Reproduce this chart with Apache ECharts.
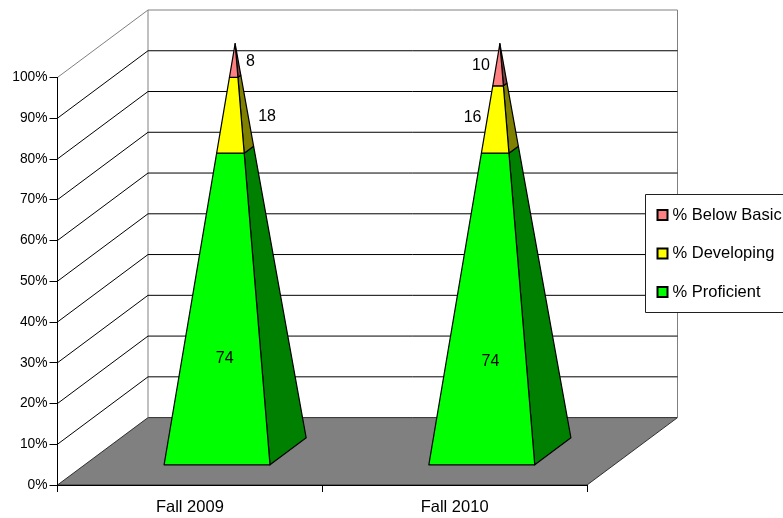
<!DOCTYPE html>
<html>
<head>
<meta charset="utf-8">
<style>html,body{margin:0;padding:0;background:#fff;overflow:hidden}#chart{width:783px;height:518px}</style>
<script src="https://cdn.jsdelivr.net/npm/echarts@6/dist/echarts.min.js"></script>
</head>
<body>
<div id="chart"></div>
<script>
const categories = ['Fall 2009', 'Fall 2010'];
const belowBasic = [8, 10];
const developing = [18, 16];
const proficient = [74, 74];
const wallLevels = [0, 10, 20, 30, 40, 50, 60, 70, 80, 90, 100];

// Oblique projection of the depth axis, in pixels, and the pyramid footprint.
const DEPTH_X = 90.5, DEPTH_Y = -67.4;
const BASE_WIDTH = 0.4, DEPTH_FRONT = 0.3, DEPTH_BACK = 0.7;
const FONT = '"Liberation Sans", Arial, sans-serif';

// Label nudges per series and category, measured from the middle of the segment.
const proficientNudge = [[1, 50], [2, 53]];
const developingNudge = [[35, 1], [-24, -2]];
const belowNudge = [[16, 1], [-18, 1]];

function wallItem(params, api) {
  const v = api.value(0);
  const band = api.size([1, 0])[0];
  const p = api.coord([0, v]);
  const left = p[0] - band / 2;
  const right = left + band * categories.length;
  const y = p[1];
  const children = [];
  const grey = '#808080';
  if (v === 0) {
    const top = api.coord([0, 100])[1];
    children.push({
      type: 'polygon',
      shape: { points: [[left, y], [right, y], [right + DEPTH_X, y + DEPTH_Y], [left + DEPTH_X, y + DEPTH_Y]] },
      style: { fill: '#808080', stroke: '#303030', lineWidth: 1 }
    });
    children.push({ type: 'line', shape: { x1: left + DEPTH_X, y1: y + DEPTH_Y, x2: left + DEPTH_X, y2: top + DEPTH_Y }, style: { stroke: grey, lineWidth: 1 } });
    children.push({ type: 'line', shape: { x1: right + DEPTH_X, y1: y + DEPTH_Y, x2: right + DEPTH_X, y2: top + DEPTH_Y }, style: { stroke: grey, lineWidth: 1 } });
  } else {
    const c = v === 100 ? grey : '#000';
    children.push({
      type: 'polyline',
      shape: { points: [[left, y], [left + DEPTH_X, y + DEPTH_Y], [right + DEPTH_X, y + DEPTH_Y]] },
      style: { stroke: c, lineWidth: 1, fill: 'none' }
    });
  }
  return { type: 'group', children };
}

function pyramidRender(sideColor, nudges) {
  return function (params, api) {
    const cat = api.value(0), from = api.value(1), to = api.value(2);
    const band = api.size([1, 0])[0];
    const foot = api.coord([cat, 0]);
    const peak = api.coord([cat, 100]);
    const half = band * BASE_WIDTH / 2;
    const apex = [foot[0] + DEPTH_X / 2, peak[1] + DEPTH_Y / 2];
    const fl = [foot[0] - half + DEPTH_X * DEPTH_FRONT, foot[1] + DEPTH_Y * DEPTH_FRONT];
    const fr = [foot[0] + half + DEPTH_X * DEPTH_FRONT, fl[1]];
    const br = [foot[0] + half + DEPTH_X * DEPTH_BACK, foot[1] + DEPTH_Y * DEPTH_BACK];
    const at = (c, v) => [c[0] + (apex[0] - c[0]) * v / 100, c[1] + (apex[1] - c[1]) * v / 100];
    const outline = { stroke: '#000', lineWidth: 1.2, lineJoin: 'round' };
    const mid = (from + to) / 2;
    const mfl = at(fl, mid), mfr = at(fr, mid);
    const nudge = nudges[cat];
    return {
      type: 'group',
      children: [
        { type: 'polygon', shape: { points: [at(fr, from), at(br, from), at(br, to), at(fr, to)] },
          style: Object.assign({ fill: sideColor }, outline) },
        { type: 'polygon', shape: { points: [at(fl, from), at(fr, from), at(fr, to), at(fl, to)] },
          style: Object.assign({ fill: api.visual('color') }, outline) },
        { type: 'text', style: {
            text: String(to - from),
            x: (mfl[0] + mfr[0]) / 2 + nudge[0], y: mfl[1] + nudge[1],
            align: 'center', verticalAlign: 'middle',
            font: '16px ' + FONT, fill: '#000' } }
      ]
    };
  };
}

function stacked(lower, values) {
  return values.map((v, i) => [i, lower[i], lower[i] + v]);
}
const proficientTop = proficient.map(() => 0);
const developingBase = proficient.slice();
const belowBase = proficient.map((v, i) => v + developing[i]);

function pyramidSeries(name, color, side, lower, values, nudges) {
  return {
    name, type: 'custom', coordinateSystem: 'cartesian2d', z: 3,
    itemStyle: { color, borderColor: '#000', borderWidth: 1 },
    encode: { x: 0, y: [1, 2] },
    renderItem: pyramidRender(side, nudges),
    data: stacked(lower, values)
  };
}

const chart = echarts.init(document.getElementById('chart'), null, { renderer: 'canvas' });
chart.setOption({
  animation: false,
  backgroundColor: '#fff',
  textStyle: { fontFamily: FONT },
  grid: { left: 57.5, top: 77.4, width: 529.5, height: 407.6, containLabel: false },
  legend: {
    orient: 'vertical', left: 645.5, top: 194.5,
    padding: [12, 20, 12, 11],
    itemWidth: 10, itemHeight: 10, itemGap: 21.5,
    backgroundColor: '#fff', borderColor: '#202020', borderWidth: 1,
    textStyle: { fontSize: 16.5, color: '#000', fontFamily: FONT },
    data: [
      { name: '% Below Basic', icon: 'rect' },
      { name: '% Developing', icon: 'rect' },
      { name: '% Proficient', icon: 'rect' }
    ]
  },
  xAxis: {
    type: 'category', data: categories, z: 10,
    axisLine: { show: true, lineStyle: { color: '#000', width: 1 } },
    axisTick: { show: true, inside: false, length: 7, lineStyle: { color: '#000', width: 1 } },
    axisLabel: { color: '#000', fontSize: 16.5, margin: 14, fontFamily: FONT }
  },
  yAxis: {
    type: 'value', min: 0, max: 100, interval: 10, z: 10,
    axisLine: { show: true, lineStyle: { color: '#000', width: 1 } },
    axisTick: { show: true, inside: false, length: 8, lineStyle: { color: '#000', width: 1 } },
    axisLabel: { color: '#000', fontSize: 13.8, margin: 10, formatter: '{value}%', fontFamily: FONT },
    splitLine: { show: false }
  },
  series: [
    { type: 'custom', coordinateSystem: 'cartesian2d', z: 1, silent: true,
      encode: { y: 0 }, renderItem: wallItem, data: wallLevels.map(v => [v]) },
    pyramidSeries('% Proficient', '#00ff00', '#008000', proficientTop, proficient, proficientNudge),
    pyramidSeries('% Developing', '#ffff00', '#808000', developingBase, developing, developingNudge),
    pyramidSeries('% Below Basic', '#ff8080', '#804040', belowBase, belowBasic, belowNudge)
  ]
});
</script>
</body>
</html>
